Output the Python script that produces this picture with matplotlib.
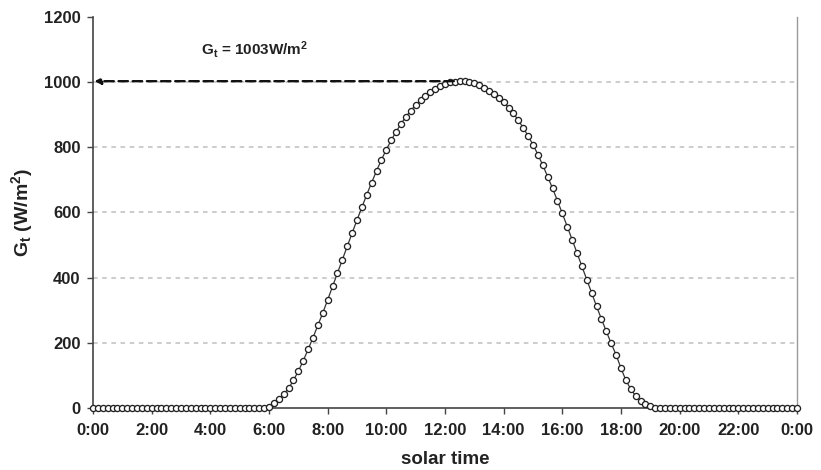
import matplotlib
matplotlib.use("Agg")
import matplotlib.pyplot as plt
from matplotlib.ticker import FixedLocator

# ---- data (10-minute solar-time samples) ----
times_min = list(range(0, 24 * 60 + 1, 10))
night_am = [0] * 36
day_vals = [3, 16, 28, 42, 60, 85, 113, 145, 180, 216,
            254, 292, 332, 373, 414, 455, 496, 537, 577, 616,
            655, 692, 728, 762, 793, 822, 848, 872, 894, 913,
            930, 945, 958, 969, 979, 987, 994, 999, 1002, 1003,
            1003, 1001, 997, 991, 983, 974, 964, 952, 938, 922,
            904, 883, 860, 835, 808, 778, 745, 710, 674, 636,
            597, 557, 517, 476, 435, 394, 353, 312, 273, 235,
            198, 163, 122, 85, 58, 37, 22, 12, 5, 1]
night_pm = [0] * 29
gt_vals = night_am + day_vals + night_pm

xtick_hours = [0, 2, 4, 6, 8, 10, 12, 14, 16, 18, 20, 22, 24]
xtick_labels = ["0:00", "2:00", "4:00", "6:00", "8:00", "10:00", "12:00",
                "14:00", "16:00", "18:00", "20:00", "22:00", "0:00"]
yticks = [0, 200, 400, 600, 800, 1000, 1200]
peak_value = 1003
peak_hour = 12.5

hours = [m / 60 for m in times_min]

plt.rcParams['font.family'] = ['Liberation Sans', 'DejaVu Sans']
plt.rcParams['mathtext.fontset'] = 'custom'
plt.rcParams['mathtext.rm'] = 'Liberation Sans:bold'
plt.rcParams['mathtext.it'] = 'Liberation Sans:bold'
plt.rcParams['mathtext.bf'] = 'Liberation Sans:bold'

fig = plt.figure(figsize=(8.21, 4.70), dpi=100)
ax = fig.add_axes([93 / 821, 1 - 408 / 470, (797 - 93) / 821, (408 - 17) / 470])

ax.set_xlim(0, 24)
ax.set_ylim(0, 1200)

for y in yticks[1:-1]:
    ax.axhline(y, color="#bfbfbf", lw=1.1, ls=(0, (3, 3)), zorder=1)

ax.plot(hours, gt_vals, color="#333333", lw=0.9, marker="o", markersize=4.4,
        markerfacecolor="white", markeredgecolor="#222222", markeredgewidth=0.95,
        zorder=3, clip_on=False)

# annotation arrow
ax.annotate("", xy=(0.05, peak_value), xytext=(peak_hour - 0.2, peak_value),
            arrowprops=dict(arrowstyle="-|>", color="#111111", lw=1.7,
                            linestyle=(0, (4, 2)), mutation_scale=9,
                            shrinkA=0, shrinkB=0), zorder=4)
ax.text(5.5, 1100, r"$\mathrm{G_t}$" + " = 1003W/m" + r"$^\mathrm{2}$",
        fontsize=11, fontweight="bold", ha="center", va="center", color="#222222")

ax.xaxis.set_major_locator(FixedLocator(xtick_hours))
ax.set_xticklabels(xtick_labels)
ax.set_yticks(yticks)

ax.spines["top"].set_visible(False)
ax.spines["right"].set_color("#9a9a9a")
ax.spines["right"].set_linewidth(1.0)
ax.spines["left"].set_color("#444444")
ax.spines["bottom"].set_color("#444444")
ax.spines["left"].set_linewidth(1.2)
ax.spines["bottom"].set_linewidth(1.2)

ax.tick_params(axis="both", direction="out", length=4, width=1.0, color="#444444",
               labelsize=12, labelcolor="#222222")
for lab in ax.get_xticklabels() + ax.get_yticklabels():
    lab.set_fontweight("bold")
ax.tick_params(axis="x", pad=7)
ax.tick_params(axis="y", pad=5)

ax.set_xlabel("solar time", fontsize=13.5, fontweight="bold", color="#222222", labelpad=9)
ax.set_ylabel(r"$\mathrm{G_t}$ (W/m$^\mathrm{2}$)", fontsize=14, fontweight="bold",
              color="#222222", labelpad=6)

fig.savefig("out.png", dpi=100)
